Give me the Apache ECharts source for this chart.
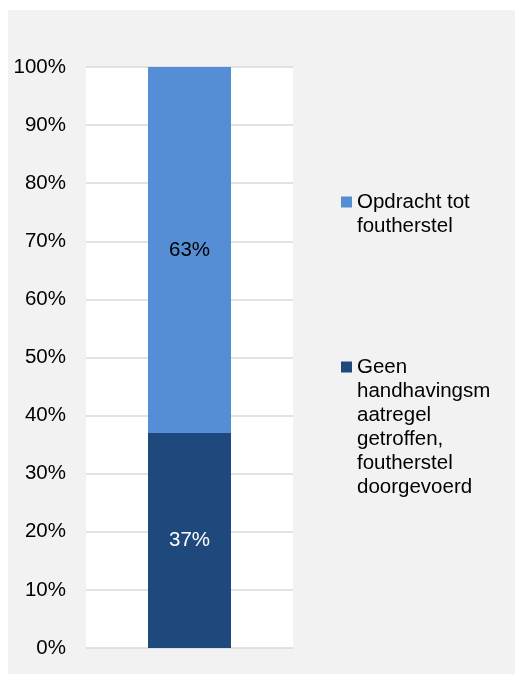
<!DOCTYPE html>
<html>
<head>
<meta charset="utf-8">
<script src="https://cdn.jsdelivr.net/npm/echarts@6/dist/echarts.min.js"></script>
<style>
html, body { margin: 0; padding: 0; background: #ffffff; }
#panel { position: absolute; left: 8px; top: 10px; width: 507px; height: 664px; background: #f2f2f2; }
#chart { width: 507px; height: 664px; }
</style>
</head>
<body>
<div id="panel"><div id="chart"></div></div>
<script>
const categories = [''];
const seriesNames = ['Geen handhavingsmaatregel getroffen, foutherstel doorgevoerd', 'Opdracht tot foutherstel'];
const legendLabels = ['Geen\nhandhavingsm\naatregel\ngetroffen,\nfoutherstel\ndoorgevoerd', 'Opdracht tot\nfoutherstel'];
const bottomValues = [37];
const topValues = [63];
const yTicks = { min: 0, max: 100, interval: 10 };

const FONT = '"Liberation Sans", Arial, sans-serif';
const FS = 20.5;
const chart = echarts.init(document.getElementById('chart'));

function legendFor(idx, top, h) {
  return {
    show: true,
    orient: 'vertical',
    left: 333,
    top: top,
    padding: 0,
    itemWidth: 11,
    itemHeight: h,
    selectedMode: false,
    data: [{
      name: seriesNames[idx],
      icon: 'path://M0,0L0,0ZM0,6.5H11V17.5H0ZM0,' + h + 'L0,' + h + 'Z'
    }],
    formatter: function () { return legendLabels[idx]; },
    textStyle: { fontFamily: FONT, fontSize: FS, lineHeight: 24, color: '#000' }
  };
}

chart.setOption({
  backgroundColor: 'transparent',
  animation: false,
  grid: { left: 78, top: 57, width: 207, height: 581, show: true, backgroundColor: '#ffffff', borderWidth: 0 },
  legend: [legendFor(1, 180, 48), legendFor(0, 345, 144)],
  xAxis: {
    type: 'category',
    data: categories,
    axisLine: { show: false },
    axisTick: { show: false },
    axisLabel: { show: false }
  },
  yAxis: {
    type: 'value',
    min: yTicks.min,
    max: yTicks.max,
    interval: yTicks.interval,
    axisLine: { show: false },
    axisTick: { show: false },
    axisLabel: { formatter: '{value}%', fontFamily: FONT, fontSize: FS, color: '#000', margin: 20 },
    splitLine: { lineStyle: { color: '#d9d9d9', width: 1.5 } }
  },
  series: [
    {
      name: seriesNames[0],
      type: 'bar',
      stack: 'a',
      barWidth: 83,
      data: bottomValues,
      itemStyle: { color: '#1f497d' },
      label: { show: true, position: 'inside', formatter: '{c}%', fontFamily: FONT, fontSize: FS, color: '#ffffff' }
    },
    {
      name: seriesNames[1],
      type: 'bar',
      stack: 'a',
      barWidth: 83,
      data: topValues,
      itemStyle: { color: '#558ed5' },
      label: { show: true, position: 'inside', formatter: '{c}%', fontFamily: FONT, fontSize: FS, color: '#000000' }
    }
  ]
});
</script>
</body>
</html>
